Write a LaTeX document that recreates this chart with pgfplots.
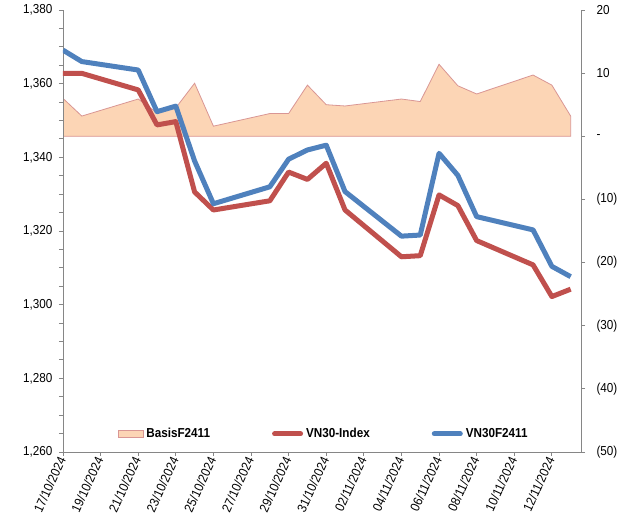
\documentclass[border=0pt]{standalone}
\usepackage{fontspec}
\setmainfont{Liberation Sans}[FakeStretch=0.9]
\usepackage{pgfplots}
\usepackage{pgfplotstable}
\pgfplotsset{compat=1.18}
\definecolor{vnblue}{HTML}{4F81BD}
\definecolor{vnred}{HTML}{C0504D}
\definecolor{basisfill}{HTML}{FCD5B5}
\definecolor{basisline}{HTML}{D99694}
\definecolor{axgray}{HTML}{868686}

\pgfplotstableread{
d basis idx fut
0 6.0 1362.8 1369.1
1 3.2 1362.8 1366.0
4 5.9 1358.3 1363.7
5 3.7 1348.8 1352.4
6 4.5 1349.7 1353.9
7 8.4 1330.6 1339.0
8 1.6 1325.7 1327.4
11 3.6 1328.2 1332.0
12 3.6 1336.0 1339.5
13 8.1 1334.0 1342.0
14 5.0 1338.4 1343.3
15 4.8 1325.7 1330.7
18 5.9 1313.0 1318.6
19 5.5 1313.3 1318.9
20 11.4 1329.8 1341.1
21 8.0 1326.9 1335.1
22 6.7 1317.4 1323.9
25 9.7 1310.8 1320.3
26 8.1 1302.2 1310.4
27 3.2 1304.2 1307.6
}\data

\pgfplotstableread{
d basis
0 0
0 6.0
1 3.2
4 5.9
5 3.7
6 4.5
7 8.4
8 1.6
11 3.6
12 3.6
13 8.1
14 5.0
15 4.8
18 5.9
19 5.5
20 11.4
21 8.0
22 6.7
25 9.7
26 8.1
27 3.2
27 0
0 0
}\basis

\begin{document}
\begin{tikzpicture}
\useasboundingbox (-63pt,-72pt) rectangle (577pt,452pt);
\pgfplotsset{
  common/.style={
    width=518pt, height=442pt, scale only axis,
    xmin=0, xmax=27.55,
    axis line style={axgray, line width=0.9pt},
    tick style={axgray, line width=0.9pt},
    major tick length=4pt, minor tick length=4pt,
    tick align=outside,
    font=\fontsize{13}{15}\selectfont,
  }
}
\begin{axis}[common,
  axis x line=none, axis y line*=right,
  ymin=-50, ymax=20,
  ytick={-50,-40,-30,-20,-10,0,10,20},
  yticklabels={(50),(40),(30),(20),(10),-,10,20},
  yticklabel style={anchor=west, xshift=8pt},
]
\addplot[fill=basisfill, draw=basisline, line width=0.8pt] table[x=d,y=basis]{\basis};
\end{axis}

\begin{axis}[common,
  axis x line*=bottom, axis y line*=left,
  ymin=1260, ymax=1380,
  ytick={1260,1280,1300,1320,1340,1360,1380},
  yticklabels={{1,260},{1,280},{1,300},{1,320},{1,340},{1,360},{1,380}},
  minor y tick num=3,
  yticklabel style={anchor=east, xshift=-3pt},
  xtick={0,2,4,6,8,10,12,14,16,18,20,22,24,26},
  xticklabels={17/10/2024,19/10/2024,21/10/2024,23/10/2024,25/10/2024,27/10/2024,29/10/2024,31/10/2024,02/11/2024,04/11/2024,06/11/2024,08/11/2024,10/11/2024,12/11/2024},
  xticklabel style={rotate=65, anchor=east, inner sep=2pt},
  legend columns=3,
  legend cell align=left,
  legend style={draw=none, fill=none, at={(0.503,0.041)}, anchor=center,
    font=\fontsize{13}{15}\selectfont\bfseries,
    /tikz/every even column/.append style={column sep=60pt},
    /tikz/every odd column/.append style={column sep=1pt}},
]
\addlegendimage{legend image code/.code={\draw[fill=basisfill, draw=basisline, line width=0.8pt] (0pt,-3.5pt) rectangle (25pt,3.5pt);}}
\addlegendentry{BasisF2411}
\addplot[vnred, line width=5pt, line join=round,
  legend image code/.code={\draw[vnred, line width=5pt, line cap=round] (0pt,0pt) -- (26pt,0pt);}]
  table[x=d,y=idx]{\data};
\addlegendentry{VN30-Index}
\addplot[vnblue, line width=5pt, line join=round,
  legend image code/.code={\draw[vnblue, line width=5pt, line cap=round] (0pt,0pt) -- (26pt,0pt);}]
  table[x=d,y=fut]{\data};
\addlegendentry{VN30F2411}
\end{axis}
\end{tikzpicture}
\end{document}
